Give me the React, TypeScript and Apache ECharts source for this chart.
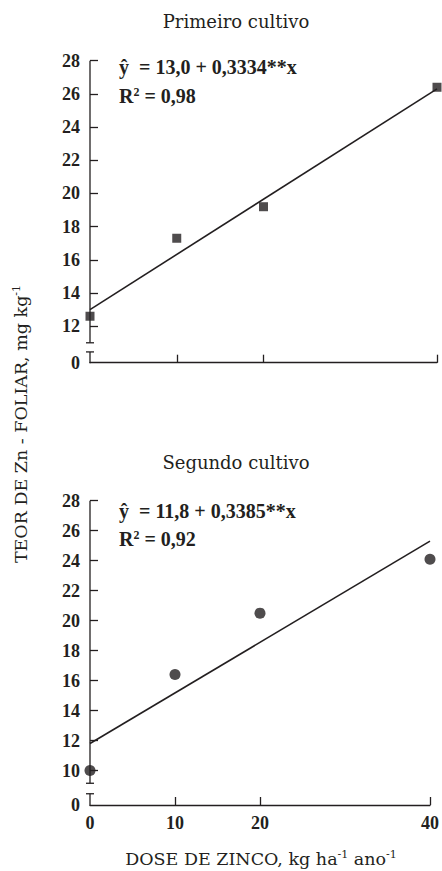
import React, { useEffect, useRef } from "react";
import * as echarts from "echarts";

// Data
const doses = [0, 10, 20, 40];
const firstCrop = [12.6, 17.3, 19.2, 26.4];
const secondCrop = [10.0, 16.4, 20.5, 24.1];
const fitFirstEnds = [13.0, 26.3];
const fitSecondEnds = [11.8, 25.3];
const xTickValues = [10, 20, 40];
const xLabelValues = [0, 10, 20, 40];
const yTicksFirst = [12, 14, 16, 18, 20, 22, 24, 26, 28];
const yTicksSecond = [10, 12, 14, 16, 18, 20, 22, 24, 26, 28];

const INK = "#231f20";
const SERIF = "Liberation Serif";
const WIDE = "DejaVu Serif";

const topRange = { min: 9.8, max: 28, breakHi: 11.0, breakLo: 10.45 };
const botRange = { min: 7.7, max: 28, breakHi: 9.15, breakLo: 8.45 };

function axisWithBreak(gridIndex: number, r: { min: number; max: number; breakHi: number; breakLo: number }) {
  return {
    type: "custom",
    xAxisIndex: gridIndex,
    yAxisIndex: gridIndex,
    data: [[0, r.max]],
    clip: false,
    silent: true,
    z: 5,
    renderItem: (_p: any, api: any) => {
      const top = api.coord([0, r.max]);
      const hi = api.coord([0, r.breakHi]);
      const lo = api.coord([0, r.breakLo]);
      const bot = api.coord([0, r.min]);
      const st = { stroke: INK, lineWidth: 1.3 };
      const w = 4;
      return {
        type: "group",
        children: [
          { type: "line", shape: { x1: top[0], y1: top[1], x2: hi[0], y2: hi[1] }, style: st },
          { type: "line", shape: { x1: hi[0] - w, y1: hi[1], x2: hi[0] + w, y2: hi[1] }, style: st },
          { type: "line", shape: { x1: lo[0] - w, y1: lo[1], x2: lo[0] + w, y2: lo[1] }, style: st },
          { type: "line", shape: { x1: lo[0], y1: lo[1], x2: bot[0], y2: bot[1] + 0.6 }, style: st },
        ],
      };
    },
  };
}

function makeXAxis(gridIndex: number, showLabels: boolean) {
  return {
    type: "value",
    gridIndex,
    min: 0,
    max: 40,
    axisLine: { show: true, lineStyle: { color: INK, width: 1.3 } },
    axisTick: { show: true, inside: true, length: 8, customValues: xTickValues, lineStyle: { color: INK, width: 1.3 } },
    axisLabel: {
      show: showLabels,
      customValues: xLabelValues,
      margin: 9,
      color: INK,
      fontFamily: SERIF,
      fontWeight: "bold",
      fontSize: 18,
    },
    splitLine: { show: false },
  };
}

function makeYAxis(gridIndex: number, r: { min: number; max: number }, ticks: number[]) {
  return {
    type: "value",
    gridIndex,
    min: r.min,
    max: r.max,
    axisLine: { show: false },
    axisTick: { show: true, inside: true, length: 8, customValues: ticks, lineStyle: { color: INK, width: 1.3 } },
    axisLabel: {
      customValues: [r.min, ...ticks],
      formatter: (v: number) => (Math.abs(v - r.min) < 0.01 ? "0" : String(v)),
      margin: 10,
      color: INK,
      fontFamily: SERIF,
      fontWeight: "bold",
      fontSize: 18,
    },
    splitLine: { show: false },
  };
}

const eqRich = {
  b: { fontFamily: SERIF, fontWeight: "bold", fontSize: 20, fill: INK, verticalAlign: "bottom" },
  s: { fontFamily: SERIF, fontWeight: "bold", fontSize: 12, fill: INK, verticalAlign: "bottom", padding: [0, 0, 8, 0] },
};
const titleRich = {
  n: { fontFamily: WIDE, fontSize: 17.5, fill: INK, verticalAlign: "bottom" },
  s: { fontFamily: WIDE, fontSize: 11, fill: INK, verticalAlign: "bottom", padding: [0, 0, 8, 0] },
};

export default function App() {
  const ref = useRef<HTMLDivElement>(null);
  useEffect(() => {
    if (!ref.current) return;
    const chart = echarts.init(ref.current, null, { renderer: "svg" });
    chart.setOption({
      animation: false,
      backgroundColor: "#ffffff",
      textStyle: { fontFamily: SERIF },
      grid: [
        { left: 90, right: 5, top: 60.7, height: 302 },
        { left: 90, right: 5, top: 500.7, height: 304.3 },
      ],
      xAxis: [makeXAxis(0, false), makeXAxis(1, true)],
      yAxis: [makeYAxis(0, topRange, yTicksFirst), makeYAxis(1, botRange, yTicksSecond)],
      series: [
        axisWithBreak(0, topRange),
        axisWithBreak(1, botRange),
        {
          type: "line",
          xAxisIndex: 0,
          yAxisIndex: 0,
          data: [[doses[0], fitFirstEnds[0]], [doses[doses.length - 1], fitFirstEnds[1]]],
          symbol: "none",
          clip: false,
          lineStyle: { color: INK, width: 1.6 },
          z: 3,
        },
        {
          type: "line",
          xAxisIndex: 1,
          yAxisIndex: 1,
          data: [[doses[0], fitSecondEnds[0]], [doses[doses.length - 1], fitSecondEnds[1]]],
          symbol: "none",
          clip: false,
          lineStyle: { color: INK, width: 1.6 },
          z: 3,
        },
        {
          type: "scatter",
          xAxisIndex: 0,
          yAxisIndex: 0,
          data: doses.map((d, i) => [d, firstCrop[i]]),
          symbol: "rect",
          symbolSize: 9,
          clip: false,
          itemStyle: { color: INK },
          z: 6,
        },
        {
          type: "scatter",
          xAxisIndex: 1,
          yAxisIndex: 1,
          data: doses.map((d, i) => [d, secondCrop[i]]),
          symbol: "circle",
          symbolSize: 11,
          clip: false,
          itemStyle: { color: INK },
          z: 6,
        },
      ],
      graphic: [
        {
          type: "text",
          x: 236,
          y: 21,
          style: { text: "Primeiro cultivo", fontFamily: WIDE, fontSize: 18, fill: INK, align: "center", verticalAlign: "middle" },
        },
        {
          type: "text",
          x: 236,
          y: 462,
          style: { text: "Segundo cultivo", fontFamily: WIDE, fontSize: 18, fill: INK, align: "center", verticalAlign: "middle" },
        },
        {
          type: "text",
          x: 119,
          y: 67,
          style: { text: "{b|ŷ  = 13,0 + 0,3334**x}", rich: eqRich, align: "left", verticalAlign: "middle" },
        },
        {
          type: "text",
          x: 119,
          y: 96,
          style: { text: "{b|R}{s|2}{b| = 0,98}", rich: eqRich, align: "left", verticalAlign: "middle" },
        },
        {
          type: "text",
          x: 119,
          y: 511,
          style: { text: "{b|ŷ  = 11,8 + 0,3385**x}", rich: eqRich, align: "left", verticalAlign: "middle" },
        },
        {
          type: "text",
          x: 119,
          y: 539,
          style: { text: "{b|R}{s|2}{b| = 0,92}", rich: eqRich, align: "left", verticalAlign: "middle" },
        },
        {
          type: "text",
          x: 261,
          y: 858,
          style: { text: "{n|DOSE DE ZINCO, kg ha}{s|-1}{n| ano}{s|-1}", rich: titleRich, align: "center", verticalAlign: "middle" },
        },
        {
          type: "text",
          x: 20,
          y: 424,
          rotation: Math.PI / 2,
          style: { text: "{n|TEOR DE Zn - FOLIAR, mg kg}{s|-1}", rich: titleRich, align: "center", verticalAlign: "middle" },
        },
      ],
    });
    return () => chart.dispose();
  }, []);
  return <div ref={ref} style={{ position: "fixed", left: 0, top: 0, width: 442, height: 871 }} />;
}
